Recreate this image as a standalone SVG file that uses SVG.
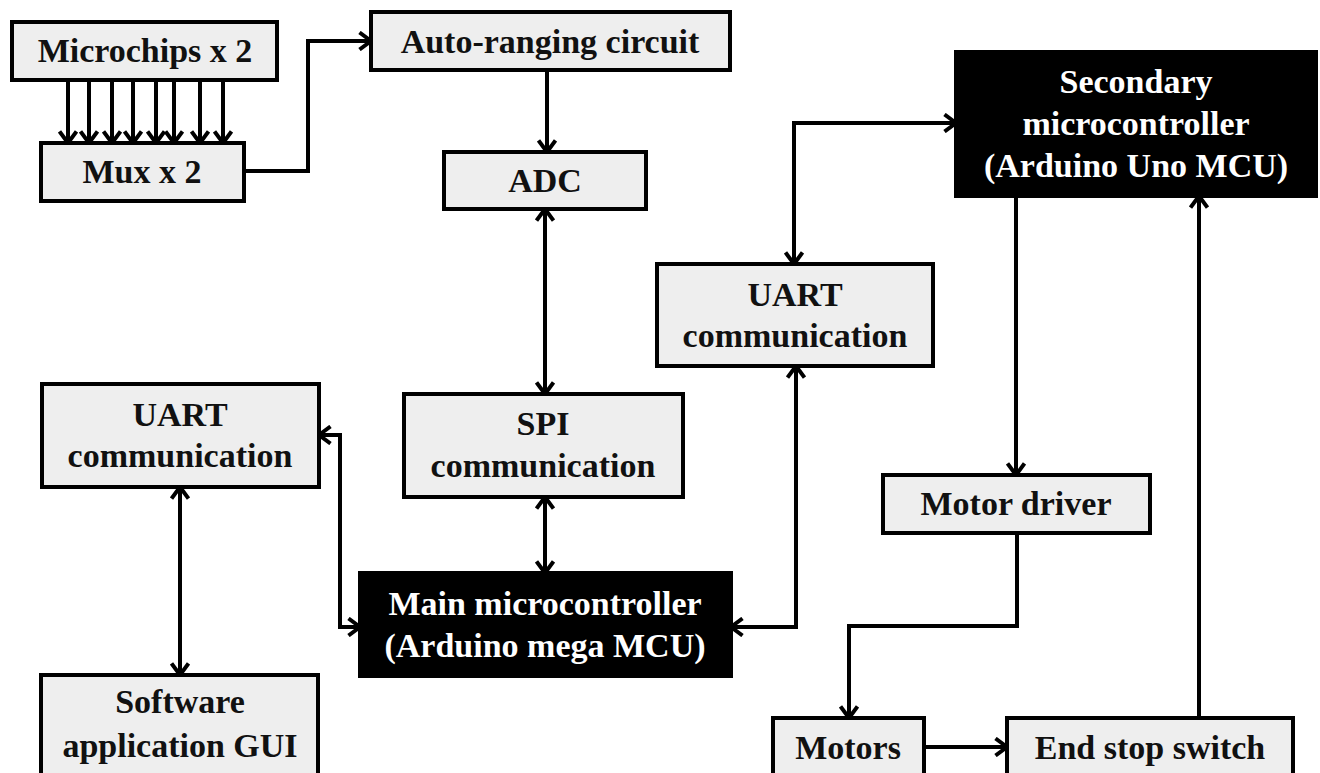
<svg xmlns="http://www.w3.org/2000/svg" width="1320" height="773" viewBox="0 0 1320 773">
<style>
.box{fill:#eeeeee;stroke:#000;stroke-width:4}
.dark{fill:#000;stroke:#000;stroke-width:4}
.lt{fill:#111}
.wt{fill:#fff}
.c{fill:none;stroke:#000;stroke-width:4}
</style>
<defs>
<marker id="ah" viewBox="0 0 15 20" refX="13" refY="10" markerWidth="15" markerHeight="20" markerUnits="userSpaceOnUse" orient="auto-start-reverse">
<path d="M1.5,1.5 L13,10 L1.5,18.5" fill="none" stroke="#000" stroke-width="4" stroke-linejoin="miter"/>
</marker>
</defs>
<rect width="1320" height="773" fill="#fff"/>
<g id="connectors">
<path class="c" d="M68,80 V143" marker-end="url(#ah)"/>
<path class="c" d="M89,80 V143" marker-end="url(#ah)"/>
<path class="c" d="M112,80 V143" marker-end="url(#ah)"/>
<path class="c" d="M133,80 V143" marker-end="url(#ah)"/>
<path class="c" d="M156,80 V143" marker-end="url(#ah)"/>
<path class="c" d="M174,80 V143" marker-end="url(#ah)"/>
<path class="c" d="M200,80 V143" marker-end="url(#ah)"/>
<path class="c" d="M223,80 V143" marker-end="url(#ah)"/>
<path class="c" d="M244,171 H308 V41 H371" marker-end="url(#ah)"/>
<path class="c" d="M547,70 V152" marker-end="url(#ah)"/>
<path class="c" d="M545,209 V394" marker-start="url(#ah)" marker-end="url(#ah)"/>
<path class="c" d="M545,497 V573" marker-start="url(#ah)" marker-end="url(#ah)"/>
<path class="c" d="M319,435 H340 V627 H360" marker-start="url(#ah)" marker-end="url(#ah)"/>
<path class="c" d="M180,487 V675" marker-start="url(#ah)" marker-end="url(#ah)"/>
<path class="c" d="M731,627 H796 V366" marker-start="url(#ah)" marker-end="url(#ah)"/>
<path class="c" d="M794,264 V123 H956" marker-start="url(#ah)" marker-end="url(#ah)"/>
<path class="c" d="M1016,196 V475" marker-end="url(#ah)"/>
<path class="c" d="M1017,533 V626 H849 V718" marker-end="url(#ah)"/>
<path class="c" d="M924,747 H1007" marker-end="url(#ah)"/>
<path class="c" d="M1199,718 V196" marker-end="url(#ah)"/>
</g>
<g font-family="Liberation Serif, Times New Roman, serif" font-weight="bold" font-size="34" text-anchor="middle">
<g id="microchips"><rect class="box" x="12" y="22" width="265" height="58"/><text class="lt" x="145" y="62">Microchips x 2</text></g>
<g id="mux"><rect class="box" x="41" y="143" width="203" height="58"/><text class="lt" x="142" y="183">Mux x 2</text></g>
<g id="autoranging"><rect class="box" x="371" y="12" width="359" height="58"/><text class="lt" x="550" y="53">Auto-ranging circuit</text></g>
<g id="adc"><rect class="box" x="444" y="152" width="202" height="57"/><text class="lt" x="545" y="192">ADC</text></g>
<g id="spi"><rect class="box" x="404" y="394" width="279" height="103"/><text class="lt" x="543" y="435">SPI</text><text class="lt" x="543" y="477">communication</text></g>
<g id="main"><rect class="dark" x="360" y="573" width="371" height="103"/><text class="wt" x="545" y="615">Main microcontroller</text><text class="wt" x="545" y="657">(Arduino mega MCU)</text></g>
<g id="uart-left"><rect class="box" x="42" y="384" width="277" height="103"/><text class="lt" x="180" y="426">UART</text><text class="lt" x="180" y="467">communication</text></g>
<g id="software"><rect class="box" x="41" y="675" width="277" height="102"/><text class="lt" x="180" y="713">Software</text><text class="lt" x="180" y="757">application GUI</text></g>
<g id="uart-right"><rect class="box" x="657" y="264" width="276" height="102"/><text class="lt" x="795" y="306">UART</text><text class="lt" x="795" y="347">communication</text></g>
<g id="secondary"><rect class="dark" x="956" y="52" width="360" height="144"/><text class="wt" x="1136" y="93">Secondary</text><text class="wt" x="1136" y="135">microcontroller</text><text class="wt" x="1136" y="177">(Arduino Uno MCU)</text></g>
<g id="motor-driver"><rect class="box" x="883" y="475" width="267" height="58"/><text class="lt" x="1016" y="515">Motor driver</text></g>
<g id="motors"><rect class="box" x="773" y="718" width="151" height="60"/><text class="lt" x="848" y="759">Motors</text></g>
<g id="endstop"><rect class="box" x="1007" y="718" width="286" height="60"/><text class="lt" x="1150" y="759">End stop switch</text></g>
</g>
</svg>
